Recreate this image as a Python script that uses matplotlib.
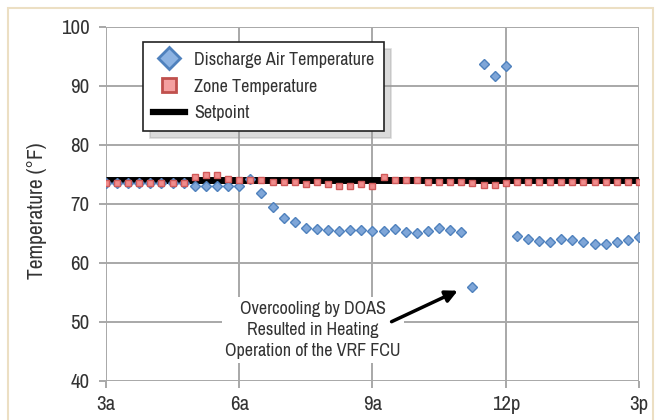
import numpy as np
import matplotlib
matplotlib.use("Agg")
import matplotlib.pyplot as plt
from matplotlib import font_manager as fm
from matplotlib.lines import Line2D
from matplotlib.patches import Rectangle

# ---- data ----
hours = 3 + np.arange(49) * 0.25   # 15-minute samples, 3a .. 3p

discharge_air = [73.6, 73.6, 73.6, 73.6, 73.6, 73.6, 73.6, 73.6,
                 73.1, 73.1, 73.1, 73.1, 73.1, 74.3, 71.8, 69.5,
                 67.6, 67.0, 66.0, 65.8, 65.6, 65.4, 65.6, 65.6,
                 65.5, 65.5, 65.8, 65.3, 65.1, 65.5, 65.9, 65.6,
                 65.3, 55.9, 93.8, 91.7, 93.3, 64.5, 64.0, 63.7,
                 63.5, 64.1, 63.9, 63.5, 63.2, 63.3, 63.5, 63.9, 64.4]

zone_temp = [73.5, 73.5, 73.5, 73.5, 73.5, 73.5, 73.5, 73.5,
             74.5, 74.9, 74.9, 74.2, 74.1, 74.1, 74.1, 73.7,
             73.7, 73.7, 73.4, 73.7, 73.4, 73.1, 73.1, 73.4,
             73.1, 74.5, 74.1, 74.1, 74.1, 73.7, 73.7, 73.7,
             73.7, 73.5, 73.2, 73.2, 73.5, 73.7, 73.7, 73.7,
             73.7, 73.7, 73.7, 73.7, 73.7, 73.7, 73.7, 73.7, 73.7]

setpoint = [74.0] * 49

x_ticks = [3, 6, 9, 12, 15]
x_tick_labels = ["3a", "6a", "9a", "12p", "3p"]
y_ticks = [40, 50, 60, 70, 80, 90, 100]

series_labels = ["Discharge Air Temperature", "Zone Temperature", "Setpoint"]
annotation_text = "Overcooling by DOAS\nResulted in Heating\nOperation of the VRF FCU"

# ---- font: prefer a narrow/condensed face if one is installed ----
cond = None
for key in ("narrow", "condensed"):
    for f in fm.fontManager.ttflist:
        fn = f.fname.lower()
        if key in fn and "bold" not in fn and "oblique" not in fn \
                and "italic" not in fn and "light" not in fn:
            cond = f
            break
    if cond is not None:
        break
if cond is not None:
    plt.rcParams['font.family'] = [cond.name, 'DejaVu Sans']
    plt.rcParams['font.stretch'] = cond.stretch
else:
    plt.rcParams['font.family'] = ['DejaVu Sans']

text_color = "#333333"
grid_color = "#a8a8a8"

fig = plt.figure(figsize=(6.59, 4.20), dpi=100)
ax = fig.add_axes([0.1608, 0.0929, 0.8088, 0.8429])

ax.plot(hours, setpoint, color="black", lw=5, zorder=3, solid_capstyle="butt")
ax.plot(hours, discharge_air, ls="none", marker="D", ms=4.6,
        mfc="#7fa6d8", mec="#4f81bd", mew=1.0, zorder=4)
ax.plot(hours, zone_temp, ls="none", marker="s", ms=4.8,
        mfc="#f08c8c", mec="#d05a5a", mew=1.0, zorder=5)

ax.set_xlim(3, 15)
ax.set_ylim(40, 100)
ax.set_xticks(x_ticks)
ax.set_xticklabels(x_tick_labels)
ax.set_yticks(y_ticks)

ax.grid(True, color=grid_color, lw=1.4, zorder=0)
ax.set_axisbelow(True)
for s in ax.spines.values():
    s.set_visible(False)

ax.tick_params(axis="both", colors=grid_color, labelcolor=text_color,
               labelsize=15, length=5, width=1.4, direction="out")
ax.tick_params(axis="y", pad=7)
ax.tick_params(axis="x", pad=5)

ax.set_ylabel("Temperature (°F)", fontsize=15.5, color=text_color)
ax.yaxis.set_label_coords(-0.111, 0.48)

handles = [
    Line2D([], [], ls="none", marker="D", ms=11, mfc="#8db3e2", mec="#4f81bd", mew=2),
    Line2D([], [], ls="none", marker="s", ms=10, mfc="#f4a0a0", mec="#c0504d", mew=2),
    Line2D([], [], color="black", lw=4.5),
]
leg = ax.legend(handles, series_labels, loc="upper left",
                bbox_to_anchor=(0.069, 0.958), borderaxespad=0,
                fontsize=13, frameon=True, fancybox=False,
                edgecolor="#222222", framealpha=1, labelspacing=0.6,
                handlelength=1.8, handletextpad=0.5, borderpad=0.55,
                shadow={'color': '0.6', 'alpha': 0.35, 'ox': 5, 'oy': -5})
leg.get_frame().set_linewidth(1.2)
for t in leg.get_texts():
    t.set_color(text_color)
leg.set_zorder(10)

ax.text(7.66, 48.6, annotation_text, ha="center", va="center", fontsize=13,
        color=text_color, linespacing=1.4, zorder=6,
        bbox=dict(boxstyle="square,pad=0.2", fc="white", ec="none"))
ax.annotate("", xy=(10.92, 55.3), xytext=(9.43, 50.05),
            arrowprops=dict(arrowstyle="-|>", color="black", lw=2.5,
                            mutation_scale=18, shrinkA=0, shrinkB=0),
            zorder=7)

fig.patches.append(Rectangle((8 / 659, -0.05), 645 / 659, 1.05 - 8 / 420,
                             transform=fig.transFigure, fill=False,
                             ec="#ecdfc3", lw=1.5))

fig.savefig("out.png", dpi=100)
